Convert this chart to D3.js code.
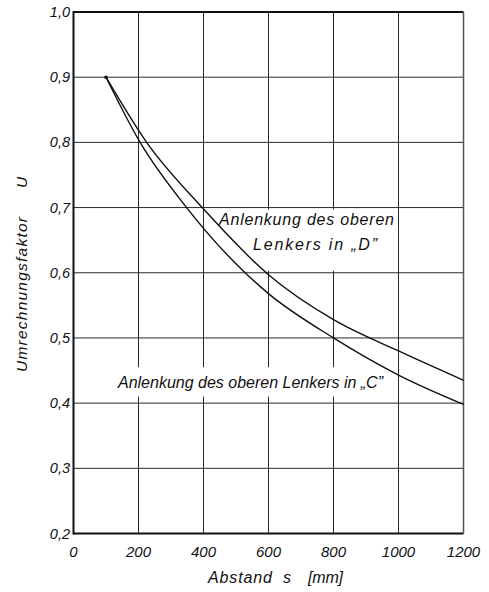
<!DOCTYPE html>
<html>
<head>
<meta charset="utf-8">
<script src="https://cdn.jsdelivr.net/npm/d3@7"></script>
<style>
  html, body { margin: 0; padding: 0; background: #fff; }
  svg { display: block; }
  text { font-family: "Liberation Sans", Arial, sans-serif; font-style: italic; fill: #111; }
</style>
</head>
<body>
<svg id="chart" width="489" height="592"></svg>
<script>
// Abstand s in mm and conversion factor U for both link positions
const distC = [100, 205, 348, 528, 600, 800, 1000, 1200];
const factorC = [0.90, 0.80, 0.70, 0.60, 0.568, 0.50, 0.443, 0.398];
const distD = [100, 225, 396, 600, 800, 1000, 1200];
const factorD = [0.90, 0.80, 0.70, 0.597, 0.528, 0.48, 0.435];

const xTicks = [0, 200, 400, 600, 800, 1000, 1200];
const yTicks = [0.2, 0.3, 0.4, 0.5, 0.6, 0.7, 0.8, 0.9, 1.0];
const yTickLabels = ["0,2", "0,3", "0,4", "0,5", "0,6", "0,7", "0,8", "0,9", "1,0"];

const labelD = ["Anlenkung des oberen", "Lenkers in \u201eD\u201d"];
const labelC = "Anlenkung des oberen Lenkers in \u201eC\u201d";

const svg = d3.select("#chart");
const plotLeft = 73.5, plotRight = 463.5, plotTop = 12, plotBottom = 533.5;

const x = d3.scaleLinear().domain([0, 1200]).range([plotLeft, plotRight]);
const y = d3.scaleLinear().domain([0.2, 1.0]).range([plotBottom, plotTop]);

// grid
const grid = svg.append("g").attr("stroke", "#2a2a2a").attr("stroke-width", 1);
grid.selectAll("line.v").data(xTicks.slice(1, -1)).join("line")
  .attr("x1", d => x(d)).attr("x2", d => x(d))
  .attr("y1", plotTop).attr("y2", plotBottom);
grid.selectAll("line.h").data(yTicks.slice(1, -1)).join("line")
  .attr("x1", plotLeft).attr("x2", plotRight)
  .attr("y1", d => y(d)).attr("y2", d => y(d));

// label backgrounds interrupt the grid
svg.append("rect").attr("x", x(440)).attr("y", y(0.697))
  .attr("width", x(990) - x(440)).attr("height", y(0.603) - y(0.697)).attr("fill", "#fff");
svg.append("rect").attr("x", x(125)).attr("y", y(0.455))
  .attr("width", x(965) - x(125)).attr("height", y(0.41) - y(0.455)).attr("fill", "#fff");

// frame
svg.append("line").attr("x1", plotLeft).attr("x2", plotRight).attr("y1", plotTop).attr("y2", plotTop)
  .attr("stroke", "#111").attr("stroke-width", 2);
svg.append("line").attr("x1", plotLeft).attr("x2", plotRight).attr("y1", plotBottom).attr("y2", plotBottom)
  .attr("stroke", "#111").attr("stroke-width", 2);
svg.append("line").attr("x1", plotLeft).attr("x2", plotLeft).attr("y1", plotTop - 1).attr("y2", plotBottom + 1)
  .attr("stroke", "#111").attr("stroke-width", 2);
svg.append("line").attr("x1", plotRight).attr("x2", plotRight).attr("y1", plotTop).attr("y2", plotBottom)
  .attr("stroke", "#555").attr("stroke-width", 1.5);

// curves
const line = d3.line().x(d => x(d[0])).y(d => y(d[1])).curve(d3.curveMonotoneX);
const seriesC = distC.map((d, i) => [d, factorC[i]]);
const seriesD = distD.map((d, i) => [d, factorD[i]]);
[seriesC, seriesD].forEach(s => {
  svg.append("path").datum(s).attr("d", line)
    .attr("fill", "none").attr("stroke", "#111").attr("stroke-width", 1.4);
});
svg.append("circle").attr("cx", x(distC[0])).attr("cy", y(factorC[0])).attr("r", 1.8).attr("fill", "#111");

// tick labels
svg.append("g").selectAll("text").data(yTicks).join("text")
  .attr("x", 70).attr("y", d => y(d) + 5)
  .attr("text-anchor", "end").attr("font-size", 14.5)
  .text((d, i) => yTickLabels[i]);
svg.append("g").selectAll("text").data(xTicks).join("text")
  .attr("x", d => x(d)).attr("y", 557)
  .attr("text-anchor", "middle").attr("font-size", 15)
  .text(d => d);

// axis titles
const xTitle = svg.append("g").attr("font-size", 16);
xTitle.append("text").attr("x", 208).attr("y", 583).attr("textLength", 64).text("Abstand");
xTitle.append("text").attr("x", 283).attr("y", 583).text("s");
xTitle.append("text").attr("x", 308).attr("y", 583).attr("textLength", 35).text("[mm]");

const yTitle = svg.append("g").attr("font-size", 15.5);
yTitle.append("text").attr("transform", "translate(27,372) rotate(-90)")
  .attr("textLength", 155).text("Umrechnungsfaktor");
yTitle.append("text").attr("transform", "translate(27,188) rotate(-90)").text("U");

// curve labels
const labels = svg.append("g").attr("font-size", 16);
labels.append("text").attr("x", 219).attr("y", 225).attr("textLength", 175).text(labelD[0]);
labels.append("text").attr("x", 253).attr("y", 250).attr("textLength", 124).text(labelD[1]);
labels.append("text").attr("x", 118).attr("y", 388).attr("textLength", 265).text(labelC);
</script>
</body>
</html>
